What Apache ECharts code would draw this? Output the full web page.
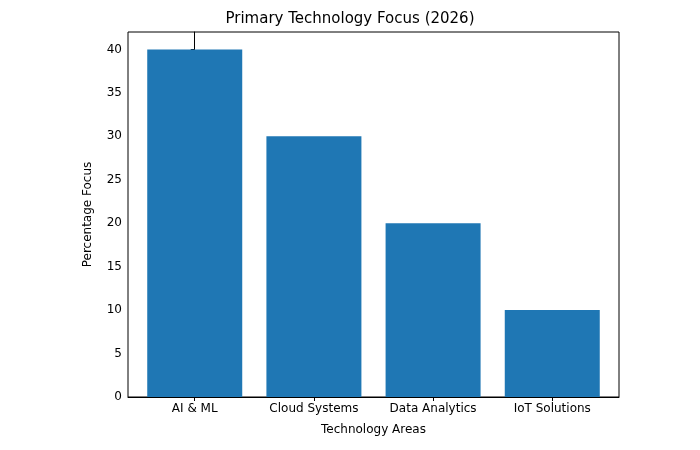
<!DOCTYPE html>
<html><head><meta charset="utf-8">
<script src="https://cdn.jsdelivr.net/npm/echarts@6/dist/echarts.min.js"></script>
<style>body{margin:0}#c{width:700px;height:450px}</style></head>
<body><div id="c"></div>
<script>
const categories = ['AI & ML','Cloud Systems','Data Analytics','IoT Solutions'];
const values = [40,30,20,10];
const chart = echarts.init(document.getElementById('c'));
const ax = {lineStyle:{color:'#000'}};
chart.setOption({
  animation:false,
  title:{text:'Primary Technology Focus (2026)',left:'center',top:7,textStyle:{fontFamily:'DejaVu Sans',fontWeight:'normal',fontSize:15,color:'#000'}},
  grid:{left:128,right:81,top:32,bottom:53,show:true,borderColor:'#000',borderWidth:1},
  xAxis:{type:'value',min:-0.56,max:3.56,name:'Technology Areas',nameLocation:'middle',nameGap:27,
    nameTextStyle:{fontFamily:'DejaVu Sans',fontSize:12,color:'#000'},
    axisLine:{show:true,...ax},splitLine:{show:false},
    axisTick:{show:true,customValues:[0,1,2,3],length:4,...ax},
    axisLabel:{customValues:[0,1,2,3],formatter:v=>categories[Math.round(v)],fontFamily:'DejaVu Sans',fontSize:12,color:'#000',margin:6}},
  yAxis:{type:'value',min:0,max:42,name:'Percentage Focus',nameLocation:'middle',nameGap:34,
    nameTextStyle:{fontFamily:'DejaVu Sans',fontSize:12,color:'#000'},
    axisLine:{show:true,...ax},splitLine:{show:false},
    axisTick:{show:true,customValues:[0,5,10,15,20,25,30,35,40],length:4,...ax},
    axisLabel:{customValues:[0,5,10,15,20,25,30,35,40],fontFamily:'DejaVu Sans',fontSize:12,color:'#000',margin:6}},
  series:[{type:'bar',barWidth:95,data:values.map((v,i)=>[i,v]),itemStyle:{color:'#1f77b4'}}]
});
</script></body></html>
